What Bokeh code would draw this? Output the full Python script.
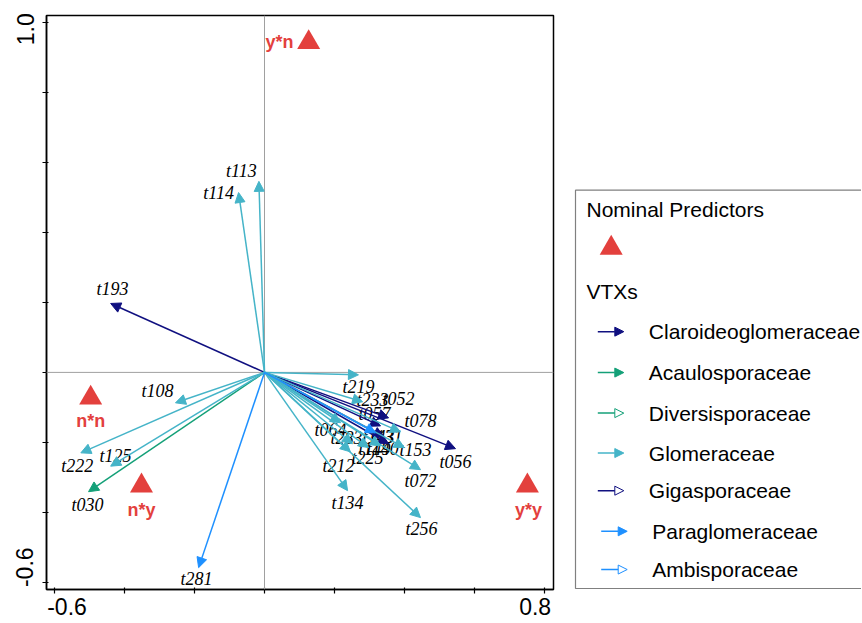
import math
from bokeh.plotting import figure
from bokeh.models import Range1d, ColumnDataSource, Arrow, NormalHead, Span, FixedTicker
from bokeh.layouts import row
from bokeh.embed import file_html
from bokeh.resources import INLINE
from bokeh.core.properties import value

# ---------------- data ----------------
vtx_names = ["t113", "t114", "t193", "t108", "t222", "t125", "t030", "t281",
             "t219", "t233", "t052", "t057", "t078", "t064", "t283", "t131",
             "t143", "t140", "t149", "t225", "t153", "t212", "t072", "t056",
             "t134", "t256"]
vtx_family = ["Glomeraceae", "Glomeraceae", "Claroideoglomeraceae", "Glomeraceae",
              "Glomeraceae", "Glomeraceae", "Acaulosporaceae", "Paraglomeraceae",
              "Glomeraceae", "Glomeraceae", "Claroideoglomeraceae", "Claroideoglomeraceae",
              "Glomeraceae", "Glomeraceae", "Glomeraceae", "Claroideoglomeraceae",
              "Paraglomeraceae", "Claroideoglomeraceae", "Glomeraceae", "Glomeraceae",
              "Glomeraceae", "Glomeraceae", "Glomeraceae", "Claroideoglomeraceae",
              "Glomeraceae", "Glomeraceae"]
vtx_x = [-0.016, -0.074, -0.439, -0.254, -0.524, -0.439, -0.502, -0.188,
         0.268, 0.280, 0.354, 0.331, 0.388, 0.217, 0.251, 0.340,
         0.317, 0.354, 0.331, 0.297, 0.399, 0.245, 0.445, 0.545,
         0.237, 0.445]
vtx_y = [0.546, 0.514, 0.197, -0.087, -0.230, -0.268, -0.341, -0.558,
         -0.007, -0.084, -0.130, -0.153, -0.170, -0.144, -0.204, -0.184,
         -0.173, -0.204, -0.210, -0.215, -0.215, -0.227, -0.278, -0.218,
         -0.338, -0.415]
label_x = [-0.066, -0.131, -0.434, -0.305, -0.534, -0.425, -0.505, -0.194,
           0.268, 0.308, 0.382, 0.314, 0.445, 0.188, 0.234, 0.348,
           0.325, 0.337, 0.314, 0.294, 0.431, 0.211, 0.445, 0.545,
           0.237, 0.448]
label_y = [0.577, 0.512, 0.238, -0.053, -0.267, -0.238, -0.378, -0.590,
           -0.041, -0.078, -0.076, -0.118, -0.138, -0.164, -0.187, -0.184,
           -0.184, -0.218, -0.218, -0.244, -0.221, -0.267, -0.310, -0.255,
           -0.372, -0.449]

pred_names = ["y*n", "n*n", "n*y", "y*y"]
pred_x = [0.126, -0.496, -0.351, 0.750]
pred_y = [0.943, -0.073, -0.324, -0.324]
pred_label_x = [0.043, -0.496, -0.351, 0.753]
pred_label_y = [0.943, -0.138, -0.392, -0.392]

families = ["Claroideoglomeraceae", "Acaulosporaceae", "Diversisporaceae",
            "Glomeraceae", "Gigasporaceae", "Paraglomeraceae", "Ambisporaceae"]
family_colors = ["#101080", "#14a078", "#14a078", "#45b4c8", "#101080",
                 "#1e90ff", "#1e90ff"]
family_open = [False, False, True, False, True, False, True]

x_ticks = [-0.6, -0.4, -0.2, 0.0, 0.2, 0.4, 0.6, 0.8]
y_ticks = [-0.6, -0.4, -0.2, 0.0, 0.2, 0.4, 0.6, 0.8, 1.0]
x_tick_labels = {-0.6: "\u2007\u2007-0.6", 0.8: "0.8\u2007\u2009"}
y_tick_labels = {1.0: "1.0\u2007", -0.6: "\u2007\u2007\u2009-0.6"}

RED = "#e3403d"

# ---------------- main plot ----------------
p = figure(width=568, height=622,
           x_range=Range1d(-0.622, 0.8245), y_range=Range1d(-0.6205, 1.020),
           output_backend="svg", toolbar_location=None,
           min_border_left=46, min_border_right=15,
           min_border_top=15, min_border_bottom=32)
p.grid.visible = False
p.outline_line_color = "black"
p.outline_line_width = 1.5
p.background_fill_color = "white"
p.border_fill_color = "white"

for ax in (p.xaxis[0], p.yaxis[0]):
    ax.axis_line_color = "black"
    ax.axis_line_width = 1.5
    ax.major_tick_out = 4
    ax.major_tick_in = 2
    ax.minor_tick_line_color = None
    ax.major_tick_line_color = "black"
    ax.major_tick_line_width = 1.2
    ax.major_label_text_font = "Liberation Sans"
    ax.major_label_text_font_size = "23px"
    ax.major_label_text_color = "black"
    ax.major_label_text_line_height = 1.0

p.xaxis[0].major_label_text_line_height = 0.5
p.xaxis[0].major_label_standoff = 0
p.yaxis[0].major_label_standoff = 4
p.xaxis[0].ticker = FixedTicker(ticks=x_ticks)
p.yaxis[0].ticker = FixedTicker(ticks=y_ticks)
p.xaxis[0].major_label_overrides = {t: x_tick_labels.get(t, "") for t in x_ticks}
p.yaxis[0].major_label_overrides = {t: y_tick_labels.get(t, "") for t in y_ticks}
p.yaxis[0].major_label_orientation = "parallel"

p.add_layout(Span(location=0, dimension="height", line_color="#a0a0a0", line_width=1))
p.add_layout(Span(location=0, dimension="width", line_color="#a0a0a0", line_width=1))

for fam, col, is_open in zip(families, family_colors, family_open):
    idx = [i for i, f in enumerate(vtx_family) if f == fam]
    if not idx:
        continue
    src = ColumnDataSource(dict(
        x0=[0.0] * len(idx), y0=[0.0] * len(idx),
        x1=[vtx_x[i] for i in idx], y1=[vtx_y[i] for i in idx]))
    head = NormalHead(size=10, fill_color="white" if is_open else col,
                      line_color=col, line_width=1)
    p.add_layout(Arrow(end=head, x_start="x0", y_start="y0", x_end="x1", y_end="y1",
                       source=src, line_color=col, line_width=1.5))

p.text(x=label_x, y=label_y, text=vtx_names,
       text_font=value("Liberation Serif"), text_font_style="italic",
       text_font_size="18px", text_align="center", text_baseline="middle",
       text_color="black")

p.scatter(x=pred_x, y=pred_y, marker="triangle", size=23,
          fill_color=RED, line_color=None)
p.text(x=pred_label_x, y=pred_label_y, text=pred_names,
       text_font=value("Liberation Sans"), text_font_style="bold",
       text_font_size="18px", text_align="center", text_baseline="middle",
       text_color=RED)

# ---------------- legend panel (coordinates in page pixels) ----------------
# frames in a row are aligned, so the legend frame spans the same rows as the plot frame
lg = figure(width=293, height=622, x_range=Range1d(568, 861), y_range=Range1d(590, 15),
            output_backend="svg", toolbar_location=None,
            min_border_left=0, min_border_right=0, min_border_top=15, min_border_bottom=32)
lg.axis.visible = False
lg.grid.visible = False
lg.outline_line_color = None
lg.border_fill_color = "white"

lg.quad(left=[575], right=[900], top=[190], bottom=[589],
        fill_color=None, line_color="#808080", line_width=1.2)

lg.text(x=[586, 586], y=[209, 291], text=["Nominal Predictors", "VTXs"],
        text_font=value("Liberation Sans"), text_font_size="21px",
        text_align="left", text_baseline="middle", text_color="black")
lg.scatter(x=[610.7], y=[248], marker="triangle", size=23, fill_color=RED, line_color=None)

row_y = [331.7, 372.7, 413.3, 453.3, 491, 531.7, 570]
row_shift = [0, 0, 0, 0, 0, 3.4, 3.4]
for fam, col, is_open, yy, sh in zip(families, family_colors, family_open, row_y, row_shift):
    head = NormalHead(size=9, fill_color="white" if is_open else col,
                      line_color=col, line_width=1)
    lg.add_layout(Arrow(end=head, x_start=597.3 + sh, y_start=yy, x_end=623.3 + sh, y_end=yy,
                        line_color=col, line_width=1.5))
    lg.text(x=[648.3 + sh], y=[yy], text=[fam],
            text_font=value("Liberation Sans"), text_font_size="21px",
            text_align="left", text_baseline="middle", text_color="black")

layout = row(p, lg, spacing=0)
open("out.html", "w").write(file_html(layout, INLINE))
